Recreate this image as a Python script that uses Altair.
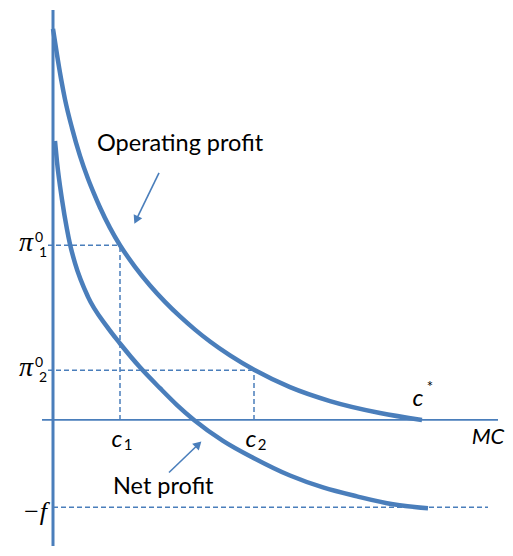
import altair as alt
import pandas as pd
import numpy as np

# ---- values (x = marginal cost MC, y = profit) ----
op_mc = [0, 4, 8, 12, 19, 27, 35, 41, 47, 57, 67, 82, 97, 112, 127, 142, 157, 177, 202, 237, 277, 327, 369]
op_profit = [394, 368, 344, 323, 294, 266, 243, 228, 214, 193.5, 176, 154.3, 135.5, 119, 104.3, 91, 79, 65, 50, 33, 19, 7, 0]
net_mc = [2, 4, 9, 14, 17, 22, 35, 54, 67, 87, 107, 124, 141, 170, 200, 237, 270, 304, 340, 375]
net_profit = [281, 260, 222, 192, 177, 158, 124, 94, 77, 53, 32, 15, 0, -21, -38, -56, -68, -77, -85, -89]
c_vals = [67, 201]          # c1, c2
c_subs = ["1", "2"]
c_star = 369
pi_vals = [176, 50]         # pi0_1, pi0_2
f_val = 88

# annotation anchors (text / arrows)
ann_text = ["Operating profit", "Net profit"]
ann_x = [44, 60]
ann_y = [278, -68]
arrow_tail_x = [106, 116]
arrow_tail_y = [249, -53]
arrow_tip_x = [81, 149]
arrow_tip_y = [197, -21]

BLUE = "#4A7EBB"
xs = alt.Scale(domain=[-45, 452], nice=False, zero=False)
ys = alt.Scale(domain=[-127, 413], nice=False, zero=False)

def X(f="x"):
    return alt.X(f, type="quantitative", scale=xs, axis=None)

def Y(f="y"):
    return alt.Y(f, type="quantitative", scale=ys, axis=None)

# curves
curves = pd.concat([
    pd.DataFrame({"x": op_mc, "y": op_profit, "s": "op", "o": range(len(op_mc))}),
    pd.DataFrame({"x": net_mc, "y": net_profit, "s": "net", "o": range(len(net_mc))}),
])
curve_layer = alt.Chart(curves).mark_line(
    color=BLUE, strokeWidth=4.5, interpolate="monotone", strokeCap="butt"
).encode(x=X(), y=Y(), detail="s:N", order="o:Q")

# axes
axes = pd.DataFrame({
    "x": [0, -11], "x2": [0, 445], "y": [-127, 0], "y2": [413, 0], "w": [3, 1.8]
})
axis_layer = alt.Chart(axes).mark_rule(color=BLUE).encode(
    x=X(), x2="x2", y=Y(), y2="y2",
    strokeWidth=alt.StrokeWidth("w:Q", scale=None))

# dashed guides
dash = pd.DataFrame({
    "x": [-5, c_vals[0], -5, c_vals[1], 0],
    "x2": [c_vals[0], c_vals[0], c_vals[1], c_vals[1], 435],
    "y": [pi_vals[0], 0, pi_vals[1], 0, -f_val],
    "y2": [pi_vals[0], pi_vals[0], pi_vals[1], pi_vals[1], -f_val],
})
dash_layer = alt.Chart(dash).mark_rule(
    color=BLUE, strokeWidth=1.5, strokeDash=[5, 3]
).encode(x=X(), x2="x2", y=Y(), y2="y2")

# pi labels
pis = pd.DataFrame({"x": [0, 0], "y": pi_vals, "sub": c_subs})
pi_main = alt.Chart(pis).mark_text(
    text="π", font="Liberation Serif", fontStyle="italic", fontSize=28,
    align="center", baseline="middle", dx=-27, dy=-2, color="black"
).encode(x=X(), y=Y())
pi_sup = alt.Chart(pis).mark_text(
    text="0", font="Lato", fontSize=14, align="center", baseline="middle",
    dx=-14, dy=-7, color="black"
).encode(x=X(), y=Y())
pi_sub = alt.Chart(pis).mark_text(
    font="Lato", fontSize=14, align="center", baseline="middle",
    dx=-10, dy=8, color="black"
).encode(x=X(), y=Y(), text="sub:N")

# c labels
cs = pd.DataFrame({"x": c_vals, "y": [0, 0], "sub": c_subs})
c_main = alt.Chart(cs).mark_text(
    text="c", font="Lato", fontStyle="italic", fontSize=24,
    align="center", baseline="middle", dx=-3, dy=20, color="black"
).encode(x=X(), y=Y())
c_sub = alt.Chart(cs).mark_text(
    font="Lato", fontSize=15, align="center", baseline="middle",
    dx=8, dy=25, color="black"
).encode(x=X(), y=Y(), text="sub:N")

cstar = pd.DataFrame({"x": [c_star], "y": [0]})
cstar_main = alt.Chart(cstar).mark_text(
    text="c", font="Lato", fontStyle="italic", fontSize=24,
    align="center", baseline="middle", dx=-4, dy=-21, color="black"
).encode(x=X(), y=Y())
cstar_sup = alt.Chart(cstar).mark_text(
    text="*", font="Lato", fontSize=15, align="center", baseline="middle",
    dx=8, dy=-33, color="black"
).encode(x=X(), y=Y())

mc = pd.DataFrame({"x": [445], "y": [0]})
mc_text = alt.Chart(mc).mark_text(
    text="MC", font="Lato", fontStyle="italic", fontSize=22,
    align="center", baseline="middle", dx=-10, dy=17, color="black"
).encode(x=X(), y=Y())

fdf = pd.DataFrame({"x": [0], "y": [-f_val]})
f_text = alt.Chart(fdf).mark_text(
    text="−f", font="Liberation Serif", fontStyle="italic", fontSize=26,
    align="right", baseline="middle", dx=-6, dy=5, color="black"
).encode(x=X(), y=Y())

# annotations
ann = pd.DataFrame({"x": ann_x, "y": ann_y, "t": ann_text})
ann_layer = alt.Chart(ann).mark_text(
    font="Lato", fontSize=23.5, align="left", baseline="middle", color="black"
).encode(x=X(), y=Y(), text="t:N")

tx = np.array(arrow_tail_x, float); ty = np.array(arrow_tail_y, float)
hx = np.array(arrow_tip_x, float); hy = np.array(arrow_tip_y, float)
ang = np.degrees(np.arctan2(hx - tx, hy - ty)) % 360
ln = np.hypot(hx - tx, hy - ty)
back = 5.0
arrows = pd.DataFrame({
    "x": tx, "y": ty, "x2": hx - (hx - tx) / ln * back, "y2": hy - (hy - ty) / ln * back,
    "px": hx - (hx - tx) / ln * back, "py": hy - (hy - ty) / ln * back, "ang": ang,
})
shaft = alt.Chart(arrows).mark_rule(color=BLUE, strokeWidth=1.6).encode(
    x=X(), x2="x2", y=Y(), y2="y2")
heads = alt.Chart(arrows).mark_point(
    shape="triangle-up", filled=True, color=BLUE, size=90, opacity=1
).encode(x=X("px"), y=Y("py"), angle=alt.Angle("ang:Q", scale=None))

chart = alt.layer(
    dash_layer, axis_layer, curve_layer, shaft, heads,
    pi_main, pi_sup, pi_sub, c_main, c_sub, cstar_main, cstar_sup,
    mc_text, f_text, ann_layer
).properties(
    width=497, height=540, padding=0,
    autosize=alt.AutoSizeParams(type="fit", contains="padding"),
    background="white",
).configure_view(stroke=None)

chart.save("out.html", embed_options={"renderer": "svg", "actions": False})
